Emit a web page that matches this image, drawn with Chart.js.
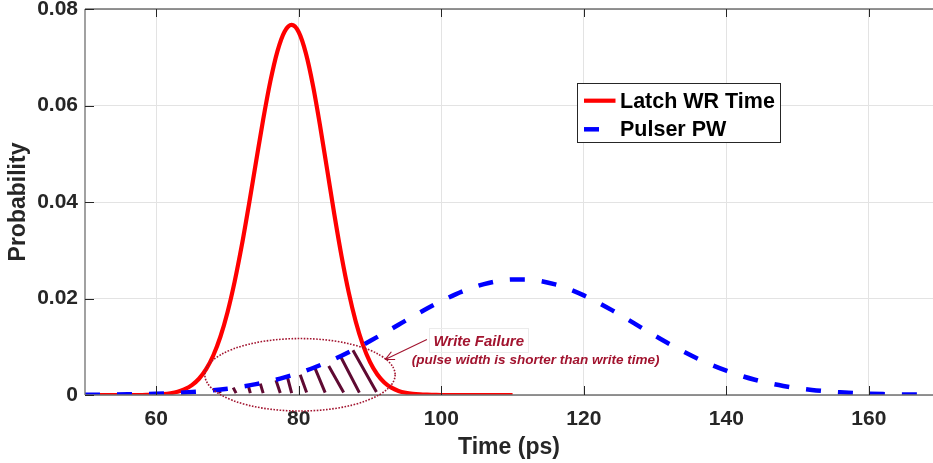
<!DOCTYPE html>
<html>
<head>
<meta charset="utf-8">
<script src="https://cdn.jsdelivr.net/npm/chart.js@4.4.1/dist/chart.umd.min.js"></script>
<style>
html,body{margin:0;padding:0;background:#fff;overflow:hidden}
#wrap{width:933px;height:463px;position:relative}
</style>
</head>
<body>
<div id="wrap"><canvas id="c" width="933" height="463"></canvas></div>
<script>
// ---------- data ----------
const seriesNames = ['Latch WR Time', 'Pulser PW'];
const axisTitleX = 'Time (ps)';
const axisTitleY = 'Probability';

const latchX = [50,51,52,53,54,55,56,57,58,59,60,61,62,63,64,65,66,67,68,69,70,71,72,73,74,75,76,77,78,79,
  80,81,82,83,84,85,86,87,88,89,90,91,92,93,94,95,96,97,98,99,100,101,102,103,104,105,106,107,108,109,110];
const latchY = [0,0,0,0,0,0,0,0,0,0.00005,0.0001,0.00019,0.00037,0.00067,0.0012,0.00205,0.00337,0.00535,0.00819,0.01207,
  0.01715,0.02349,0.03099,0.03942,0.04831,0.05706,0.06494,0.07123,0.0753,0.0767,
  0.07518,0.0708,0.06407,0.05569,0.04652,0.03734,0.02879,0.02132,0.01518,0.01038,
  0.00682,0.00431,0.00261,0.00152,0.00085,0.00046,0.00024,0.00012,0.00006,0.00003,
  0,0,0,0,0,0,0,0,0,0,0];

const pulserX = [50,52,54,56,58,60,62,64,66,68,70,72,74,76,78,80,82,84,86,88,90,92,94,96,98,100,
  102,104,106,108,110,112,114,116,118,120,122,124,126,128,130,132,134,136,138,140,142,144,146,148,150,
  152,154,156,158,160,162,164,166,168,170];
const pulserY = [0.00004,0.00006,0.00009,0.00013,0.00019,0.00027,0.00038,0.00053,0.00072,0.00098,
  0.00131,0.00173,0.00225,0.00288,0.00365,0.00455,0.0056,0.0068,0.00814,0.00961,
  0.01119,0.01285,0.01456,0.01626,0.01792,0.01947,0.02086,0.02205,0.02298,0.02363,
  0.02396,0.02396,0.0236,0.02291,0.02191,0.02064,0.01916,0.01753,0.0158,0.01402,
  0.01227,0.01057,0.00898,0.00751,0.00619,0.00503,0.00402,0.00317,0.00246,0.00188,
  0.00142,0.00105,0.00077,0.00056,0.0004,0.00028,0.00019,0.00013,0.00009,0.00006,0.00004];

// hatch strokes of the "write failure" region (top on dashed curve, bottom near zero)
const hatchTopX    = [68.7,70.8,72.9,74.6,76.8,78.4,80.2,82.3,84.2,85.9,87.6];
const hatchTopY    = [0.00125,0.00154,0.00201,0.00236,0.00305,0.00373,0.00420,0.00548,0.00600,0.00788,0.00927];
const hatchBottomX = [69.0,71.2,73.2,75.0,77.4,79.0,81.1,83.7,86.3,88.5,90.9];
const hatchBottomY = [0.0004,0.0004,0.0004,0.0004,0.0004,0.0004,0.0005,0.0005,0.0005,0.0005,0.0006];

const xTicks = [60,80,100,120,140,160];
const xTickLabels = ['60','80','100','120','140','160'];
const yTicks = [0,0.02,0.04,0.06,0.08];
const yTickLabels = ['0','0.02','0.04','0.06','0.08'];

const annotationText = ['Write Failure', '(pulse width is shorter than write time)'];
// annotation geometry in data units
const ellipseCenter = [80.17, 0.00419];
const ellipseRadii = [13.35, 0.00751];
const arrowFrom = [97.98, 0.0115];
const arrowTo = [92.12, 0.00735];
const text1At = [98.9, 0.01017];
const text2At = [95.87, 0.00637];

// ---------- build ----------
const FONT = '"Liberation Sans", Arial, Helvetica, sans-serif';
const AXIS_TXT = '#262626';
const CRIMSON = '#A2142F';
const zip = (xs, ys) => xs.map((x, i) => ({x: x, y: ys[i]}));

const hatchData = [];
hatchTopX.forEach((x, i) => {
  hatchData.push({x: x, y: hatchTopY[i]});
  hatchData.push({x: hatchBottomX[i], y: hatchBottomY[i]});
  hatchData.push({x: hatchBottomX[i], y: null});
});

const framePlugin = {
  id: 'frame',
  afterDatasetsDraw(chart) {
    const {ctx, chartArea: a, scales: {x, y}} = chart;
    ctx.save();
    ctx.strokeStyle = '#707070';
    ctx.lineWidth = 1.3;
    ctx.beginPath();
    ctx.moveTo(a.left, a.top); ctx.lineTo(a.right, a.top);
    ctx.moveTo(a.left, a.top); ctx.lineTo(a.left, a.bottom);
    ctx.moveTo(a.left, a.bottom); ctx.lineTo(a.right, a.bottom);
    ctx.stroke();
    ctx.strokeStyle = '#262626';
    ctx.lineWidth = 1;
    ctx.beginPath();
    xTicks.forEach(v => {
      const px = Math.round(x.getPixelForValue(v)) + 0.5;
      ctx.moveTo(px, a.bottom); ctx.lineTo(px, a.bottom - 9);
      ctx.moveTo(px, a.top); ctx.lineTo(px, a.top + 8);
    });
    yTicks.forEach(v => {
      const py = Math.round(y.getPixelForValue(v)) + 0.5;
      ctx.moveTo(a.left, py); ctx.lineTo(a.left + 9, py);
    });
    ctx.stroke();
    ctx.restore();
  }
};

const annotationPlugin = {
  id: 'annot',
  afterDraw(chart) {
    const {ctx, scales: {x, y}} = chart;
    ctx.save();
    // dotted ellipse
    const cx = x.getPixelForValue(ellipseCenter[0]);
    const cy = y.getPixelForValue(ellipseCenter[1]);
    const rx = Math.abs(x.getPixelForValue(ellipseCenter[0] + ellipseRadii[0]) - cx);
    const ry = Math.abs(y.getPixelForValue(ellipseCenter[1] + ellipseRadii[1]) - cy);
    ctx.strokeStyle = CRIMSON;
    ctx.lineWidth = 1.6;
    ctx.setLineDash([1.6, 1.5]);
    ctx.beginPath();
    ctx.ellipse(cx, cy, rx, ry, 0, 0, Math.PI * 2);
    ctx.stroke();
    ctx.setLineDash([]);
    // arrow
    const x0 = x.getPixelForValue(arrowFrom[0]), y0 = y.getPixelForValue(arrowFrom[1]);
    const x1 = x.getPixelForValue(arrowTo[0]), y1 = y.getPixelForValue(arrowTo[1]);
    ctx.lineWidth = 1.1;
    ctx.beginPath();
    ctx.moveTo(x0, y0); ctx.lineTo(x1, y1);
    const ang = Math.atan2(y1 - y0, x1 - x0);
    const hl = 10;
    ctx.moveTo(x1, y1); ctx.lineTo(x1 - hl * Math.cos(ang - 0.45), y1 - hl * Math.sin(ang - 0.45));
    ctx.moveTo(x1, y1); ctx.lineTo(x1 - hl * Math.cos(ang + 0.45), y1 - hl * Math.sin(ang + 0.45));
    ctx.stroke();
    // texts
    const t1x = x.getPixelForValue(text1At[0]), t1y = y.getPixelForValue(text1At[1]);
    ctx.font = 'italic bold 15px ' + FONT;
    const w1 = ctx.measureText(annotationText[0]).width;
    ctx.strokeStyle = '#ebebeb';
    ctx.lineWidth = 1;
    ctx.strokeRect(Math.round(t1x - 4) + 0.5, Math.round(t1y - 18) + 0.5, Math.round(w1 + 8), 24);
    ctx.fillStyle = CRIMSON;
    ctx.textBaseline = 'alphabetic';
    ctx.textAlign = 'left';
    ctx.fillText(annotationText[0], t1x, t1y);
    ctx.font = 'italic bold 13.5px ' + FONT;
    ctx.fillText(annotationText[1], x.getPixelForValue(text2At[0]), y.getPixelForValue(text2At[1]));
    ctx.restore();
  }
};

const legendPlugin = {
  id: 'boxLegend',
  afterDraw(chart) {
    const {ctx} = chart;
    const bx = 577.5, by = 83.5, bw = 203, bh = 59;
    ctx.save();
    ctx.fillStyle = '#ffffff';
    ctx.fillRect(bx, by, bw, bh);
    ctx.strokeStyle = '#262626';
    ctx.lineWidth = 1;
    ctx.strokeRect(bx, by, bw, bh);
    const rows = [by + 17.2, by + 45.8];
    chart.data.datasets.slice(0, 2).forEach((ds, i) => {
      ctx.strokeStyle = ds.borderColor;
      ctx.lineWidth = ds.borderWidth;
      ctx.setLineDash(ds.borderDash || []);
      ctx.beginPath();
      ctx.moveTo(bx + 6.5, rows[i]);
      ctx.lineTo(bx + 38, rows[i]);
      ctx.stroke();
      ctx.setLineDash([]);
      ctx.fillStyle = '#000';
      ctx.font = 'bold 21.5px ' + FONT;
      ctx.textBaseline = 'middle';
      ctx.textAlign = 'left';
      ctx.fillText(ds.label, bx + 42.5, rows[i] + 1);
    });
    ctx.restore();
  }
};

new Chart(document.getElementById('c'), {
  type: 'scatter',
  data: {
    datasets: [
      {label: seriesNames[0], data: zip(latchX, latchY), showLine: true, borderColor: '#ff0000',
       borderWidth: 4.2, pointRadius: 0, cubicInterpolationMode: 'monotone', order: 1},
      {label: seriesNames[1], data: zip(pulserX, pulserY), showLine: true, borderColor: '#0000ff',
       borderWidth: 4.5, borderDash: [15, 17], borderCapStyle: 'butt', pointRadius: 0,
       cubicInterpolationMode: 'monotone', order: 0},
      {label: 'hatch', data: hatchData, showLine: true, spanGaps: false, borderColor: '#5f0a32',
       borderWidth: 3, pointRadius: 0, tension: 0, order: 2}
    ]
  },
  options: {
    responsive: false,
    animation: false,
    layout: {padding: {top: 9, right: 0, left: 0, bottom: 0}},
    plugins: {legend: {display: false}, tooltip: {enabled: false}},
    scales: {
      x: {
        type: 'linear', min: 50, max: 169,
        afterBuildTicks: s => { s.ticks = xTicks.map(v => ({value: v})); },
        afterFit: s => { s.height = 68; s.paddingLeft = 0; s.paddingRight = 0; },
        ticks: {callback: v => xTickLabels[xTicks.indexOf(v)], color: AXIS_TXT, padding: 12,
                font: {family: FONT, size: 21, weight: 'bold'}, maxRotation: 0, autoSkip: false},
        grid: {color: '#e3e3e3', drawTicks: false},
        border: {display: false},
        title: {display: true, text: axisTitleX, color: AXIS_TXT, padding: {top: 0, bottom: 2},
                font: {family: FONT, size: 23, weight: 'bold'}}
      },
      y: {
        type: 'linear', min: 0, max: 0.08,
        afterBuildTicks: s => { s.ticks = yTicks.map(v => ({value: v})); },
        afterFit: s => { s.width = 85; s.paddingTop = 0; s.paddingBottom = 0; },
        ticks: {callback: v => yTickLabels[yTicks.indexOf(v)], color: AXIS_TXT, padding: 7,
                font: {family: FONT, size: 21, weight: 'bold'}, autoSkip: false},
        grid: {color: '#e3e3e3', drawTicks: false},
        border: {display: false},
        title: {display: true, text: axisTitleY, color: AXIS_TXT, padding: {top: 5, bottom: 0},
                font: {family: FONT, size: 23, weight: 'bold'}}
      }
    }
  },
  plugins: [framePlugin, annotationPlugin, legendPlugin]
});
</script>
</body>
</html>
